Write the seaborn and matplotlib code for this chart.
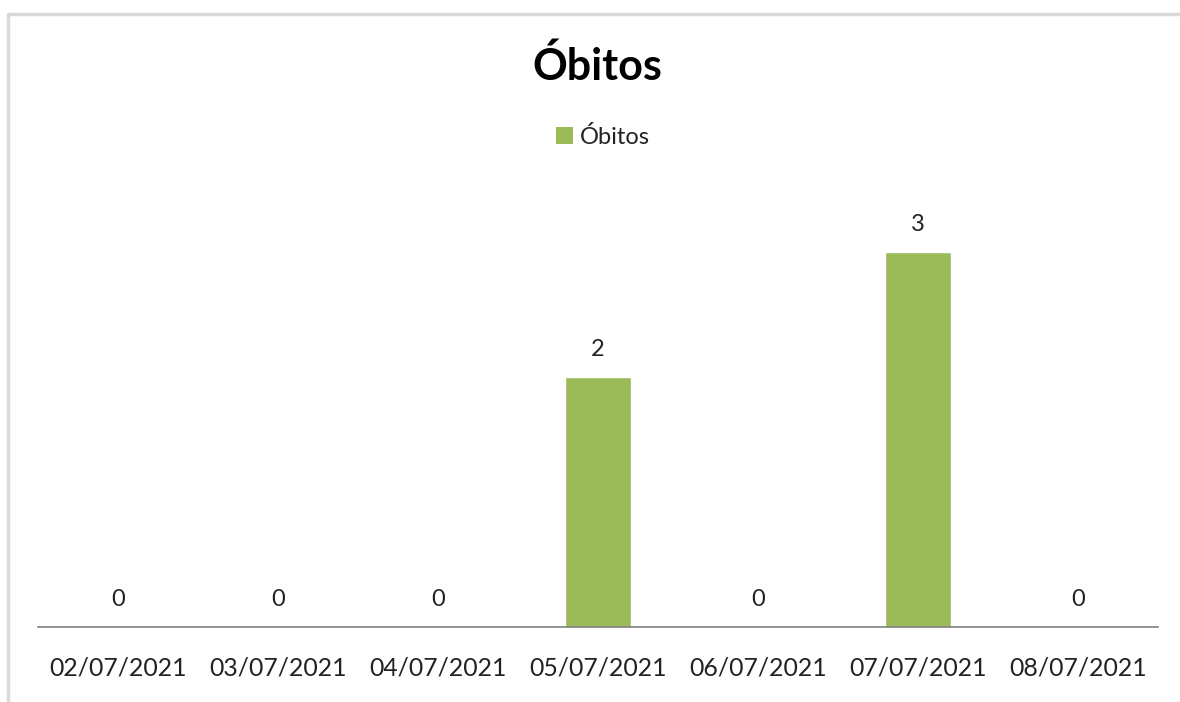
import matplotlib
matplotlib.use("Agg")
import matplotlib.pyplot as plt
import seaborn as sns
import pandas as pd
from matplotlib.lines import Line2D
from matplotlib.patches import Patch

# ====================
# DATA
# ====================
datas = ["02/07/2021", "03/07/2021", "04/07/2021", "05/07/2021",
         "06/07/2021", "07/07/2021", "08/07/2021"]
obitos = [0, 0, 0, 2, 0, 3, 0]
serie = "Óbitos"

df = pd.DataFrame({"Data": datas, "Obitos": obitos})

sns.set_style("white")
plt.rcParams["font.family"] = ["Lato", "DejaVu Sans"]

verde = "#9BBB59"

fig = plt.figure(figsize=(11.8, 7.02), dpi=100)
ax = fig.add_axes([38 / 1180, 75 / 702, 1120 / 1180, 437 / 702])

sns.barplot(data=df, x="Data", y="Obitos", color=verde, width=0.41,
            saturation=1, ax=ax)

ax.set_ylim(0, 3.5)
ax.set_xlim(-0.5, len(datas) - 0.5)
ax.set_xlabel("")
ax.set_ylabel("")
ax.set_yticks([])
ax.tick_params(axis="x", length=0, pad=21, labelsize=17.8, labelcolor="#222222")
for s in ["top", "right", "left"]:
    ax.spines[s].set_visible(False)
ax.spines["bottom"].set_color("#808080")
ax.spines["bottom"].set_linewidth(1.2)

# rótulos de dados
for i, v in enumerate(obitos):
    ax.annotate(str(v), (i, v), xytext=(0, 20), textcoords="offset points",
                ha="center", va="center", fontsize=17, color="#222222")

# título e legenda
fig.text(597 / 1180, 1 - 66 / 702, serie, ha="center", va="center",
         fontsize=31, fontweight="bold", color="black")
fig.legend(handles=[Patch(facecolor=verde, edgecolor="none", label=serie)],
           loc="center", bbox_to_anchor=(603 / 1180, 1 - 137 / 702),
           frameon=False, fontsize=17, handlelength=0.7, handleheight=0.7,
           handletextpad=0.3, labelcolor="#222222")

# borda do gráfico
borda = "#D9D9D9"
fig.add_artist(Line2D([8 / 1180, 1], [1 - 14 / 702, 1 - 14 / 702],
                      color=borda, lw=2.5, transform=fig.transFigure))
fig.add_artist(Line2D([8 / 1180, 8 / 1180], [0, 1 - 14 / 702],
                      color=borda, lw=2.5, transform=fig.transFigure))

fig.savefig("out.png", dpi=100)
